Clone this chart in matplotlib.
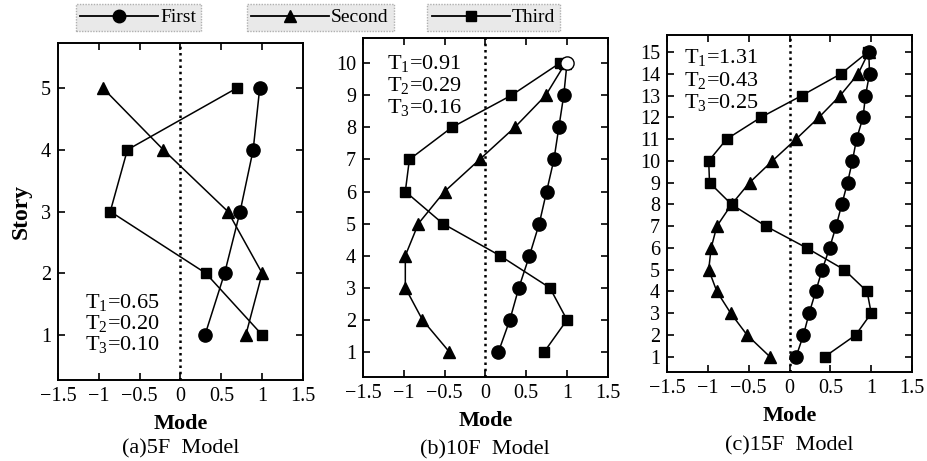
import numpy as np
import matplotlib
matplotlib.use("Agg")
import matplotlib.pyplot as plt
from matplotlib.lines import Line2D
from matplotlib.ticker import FuncFormatter

plt.rcParams['font.family'] = ['Liberation Serif', 'DejaVu Serif']
plt.rcParams['mathtext.fontset'] = 'custom'
plt.rcParams['mathtext.rm'] = 'Liberation Serif'
plt.rcParams['mathtext.it'] = 'Liberation Serif'

# mode shapes
first_5 = [0.30, 0.54, 0.73, 0.89, 0.97]
second_5 = [0.80, 1.00, 0.58, -0.21, -0.95]
third_5 = [1.00, 0.31, -0.86, -0.65, 0.69]

first_10 = [0.16, 0.30, 0.41, 0.54, 0.66, 0.75, 0.84, 0.90, 0.96, 1.00]
second_10 = [-0.44, -0.77, -0.98, -0.98, -0.82, -0.50, -0.07, 0.36, 0.74, 0.98]
third_10 = [0.72, 1.00, 0.79, 0.18, -0.52, -0.98, -0.93, -0.41, 0.32, 0.91]

first_15 = [0.08, 0.17, 0.24, 0.32, 0.40, 0.49, 0.57, 0.64, 0.71, 0.77, 0.82, 0.90, 0.93, 0.98, 0.97]
second_15 = [-0.24, -0.52, -0.72, -0.89, -0.99, -0.96, -0.89, -0.71, -0.49, -0.21, 0.08, 0.36, 0.62, 0.84, 0.97]
third_15 = [0.43, 0.81, 1.00, 0.95, 0.67, 0.21, -0.29, -0.71, -0.98, -0.99, -0.77, -0.35, 0.15, 0.63, 0.96]

periods_5 = ['0.65', '0.20', '0.10']
periods_10 = ['0.91', '0.29', '0.16']
periods_15 = ['1.31', '0.43', '0.25']

xticks = [-1.5, -1, -0.5, 0, 0.5, 1, 1.5]

fig = plt.figure(figsize=(9.28, 4.61), dpi=100)

panels = [
    dict(rect=[0.0625, 0.1757, 0.264, 0.731], first=first_5, second=second_5, third=third_5,
         T=periods_5, ylim=(0.27, 5.73), tpos=(0.11, [0.231, 0.169, 0.104]), cap='(a)5F  Model',
         cap_y=-0.205, open_top=False),
    dict(rect=[0.391, 0.1822, 0.264, 0.735], first=first_10, second=second_10, third=third_10,
         T=periods_10, ylim=(0.22, 10.78), tpos=(0.098, [0.926, 0.861, 0.796]), cap='(b)10F  Model',
         cap_y=-0.215, open_top=True),
    dict(rect=[0.7188, 0.193, 0.264, 0.731], first=first_15, second=second_15, third=third_15,
         T=periods_15, ylim=(0.3, 15.78), tpos=(0.068, [0.932, 0.866, 0.801]), cap='(c)15F  Model',
         cap_y=-0.22, open_top=False),
]

fmt = FuncFormatter(lambda v, p: ('%g' % v).replace('-', '\u2212'))

for i, p in enumerate(panels):
    ax = fig.add_axes(p['rect'])
    n = len(p['first'])
    story = np.arange(1, n + 1)
    ax.axvline(0, color='black', ls=(0, (1, 1.5)), lw=1.8, zorder=1)
    ax.plot(p['second'], story, color='black', lw=1.1, marker='^', ms=8.5, zorder=3)
    ax.plot(p['third'], story, color='black', lw=1.1, marker='s', ms=7, zorder=3)
    if p['open_top']:
        ax.plot(p['first'], story, color='black', lw=1.1, marker='o', ms=9.5,
                markevery=list(range(n - 1)), zorder=4)
        ax.plot(p['first'][-1:], story[-1:], ls='none', marker='o', ms=9.5,
                markerfacecolor='white', markeredgecolor='black', markeredgewidth=1.0, zorder=5)
    else:
        ax.plot(p['first'], story, color='black', lw=1.1, marker='o', ms=9.5, zorder=4)

    ax.set_xlim(-1.5, 1.5)
    ax.set_ylim(*p['ylim'])
    ax.set_xticks(xticks)
    ax.xaxis.set_major_formatter(fmt)
    ax.set_yticks(story)
    ax.tick_params(direction='in', top=True, right=True, labelsize=14.5, length=5, width=1.2, pad=5)
    for s in ax.spines.values():
        s.set_linewidth(1.4)
    ax.set_xlabel('Mode', fontsize=16, fontweight='bold', labelpad=6)
    ax.text(0.5, p['cap_y'], p['cap'], transform=ax.transAxes, ha='center', va='center', fontsize=16)
    if i == 0:
        ax.set_ylabel('Story', fontsize=17, fontweight='bold', labelpad=7)
    tx, tys = p['tpos']
    for k, (tv, ty) in enumerate(zip(p['T'], tys)):
        ax.text(tx, ty, r'T$_{%d}$=%s' % (k + 1, tv), transform=ax.transAxes,
                ha='left', va='center', fontsize=16)

# legend boxes across the top
handles = [
    Line2D([], [], color='black', lw=1.3, marker='o', ms=9, label='First'),
    Line2D([], [], color='black', lw=1.3, marker='^', ms=8, label='Second'),
    Line2D([], [], color='black', lw=1.3, marker='s', ms=7, label='Third'),
]
centers = [0.149, 0.345, 0.532]
for h, cx in zip(handles, centers):
    leg = fig.legend(handles=[h], loc='center', bbox_to_anchor=(cx, 0.962), fontsize=14,
                     handlelength=4.0, handletextpad=0.1, borderpad=0.25, borderaxespad=0,
                     fancybox=False, framealpha=1)
    leg.get_frame().set_facecolor('#e9e9e9')
    leg.get_frame().set_edgecolor('#b0b0b0')
    leg.get_frame().set_linestyle((0, (1, 1)))

fig.savefig('out.png', dpi=100)
